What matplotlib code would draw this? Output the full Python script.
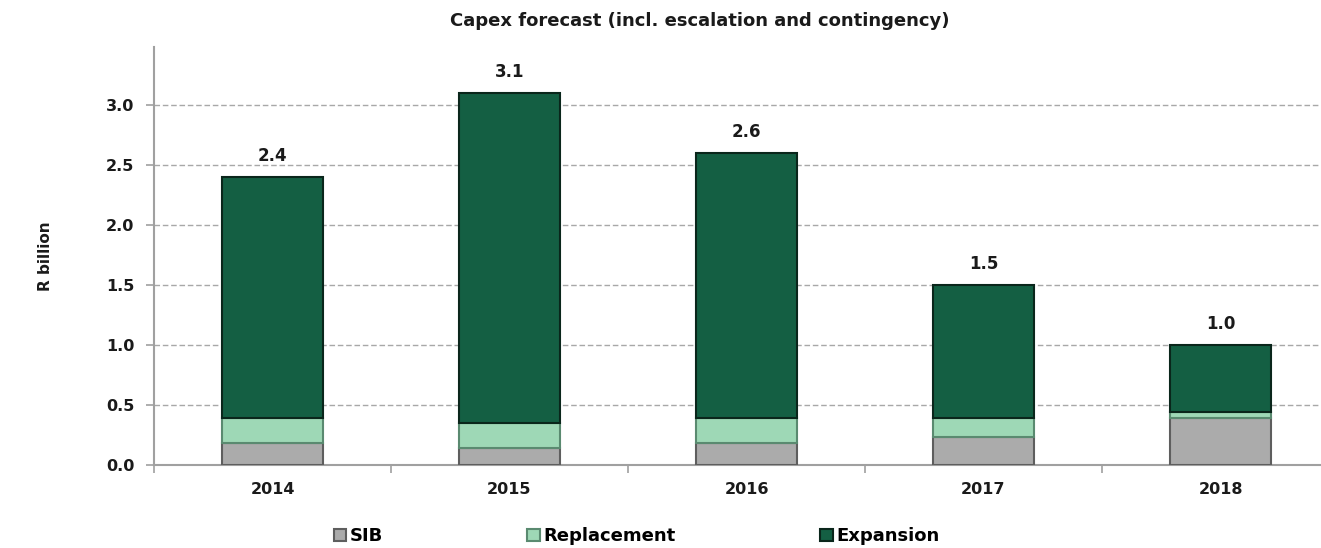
import matplotlib.pyplot as plt
import numpy as np

years = ["2014", "2015", "2016", "2017", "2018"]
sib = [0.18, 0.14, 0.18, 0.23, 0.39]
replacement = [0.21, 0.21, 0.21, 0.16, 0.05]
totals = [2.4, 3.1, 2.6, 1.5, 1.0]
expansion = [t - s - r for t, s, r in zip(totals, sib, replacement)]

plt.rcParams["font.family"] = ["DejaVu Sans"]
plt.rcParams["font.weight"] = "bold"

fig = plt.figure(figsize=(13.21, 5.48), dpi=100)
# axes is wider than the figure on the right, as in the cropped original
ax = fig.add_axes([154 / 1321, 83 / 548, 1185 / 1321, 418 / 548])

x = np.arange(len(years))
w = 0.43
grey = "#ababab"
light = "#9ed8b6"
dark = "#145f43"

ax.bar(x, sib, w, color=grey, edgecolor="#5e5e5e", linewidth=1.5, label="SIB", zorder=3)
ax.bar(x, replacement, w, bottom=sib, color=light, edgecolor="#5a8a70", linewidth=1.5,
       label="Replacement", zorder=3)
bottom2 = [s + r for s, r in zip(sib, replacement)]
ax.bar(x, expansion, w, bottom=bottom2, color=dark, edgecolor="#0a261b", linewidth=1.5,
       label="Expansion", zorder=3)

for xi, t in zip(x, totals):
    ax.text(xi, t + 0.1, f"{t:.1f}", ha="center", va="bottom", fontsize=12,
            fontweight="bold", color="#1a1a1a")

ax.set_xlim(-0.5, len(years) - 0.5)
ax.set_ylim(0, 3.48)
ax.set_yticks(np.arange(0, 3.01, 0.5))
ax.set_yticklabels([f"{v:.1f}" for v in np.arange(0, 3.01, 0.5)], fontsize=11.5,
                   color="#1a1a1a")
ax.set_xticks(x)
ax.set_xticklabels(years, fontsize=11.5, color="#1a1a1a")
ax.set_xticks(np.arange(-0.5, len(years)), minor=True)
ax.tick_params(axis="x", which="major", length=0, pad=12)
ax.tick_params(axis="x", which="minor", length=6, color="#a0a0a0", width=1.2)
ax.tick_params(axis="y", length=6, color="#a0a0a0", width=1.2, pad=8)

ax.yaxis.grid(True, linestyle=(0, (4, 2)), color="#a8a8a8", linewidth=1)
ax.set_axisbelow(True)
for s in ["top", "right"]:
    ax.spines[s].set_visible(False)
for s in ["left", "bottom"]:
    ax.spines[s].set_color("#a0a0a0")
    ax.spines[s].set_linewidth(1.5)

ax.set_ylabel("R billion", fontsize=11, fontweight="bold", labelpad=38, color="#1a1a1a")
fig.text(0.53, 0.962, "Capex forecast (incl. escalation and contingency)", ha="center",
         va="center", fontsize=13, fontweight="bold", color="#1a1a1a")

fig.legend(loc="lower center", bbox_to_anchor=(0.482, -0.025), ncol=3, frameon=False,
           fontsize=13, handlelength=0.7, handleheight=0.7, handletextpad=0.2,
           columnspacing=8)

plt.savefig("out.png", dpi=100)
